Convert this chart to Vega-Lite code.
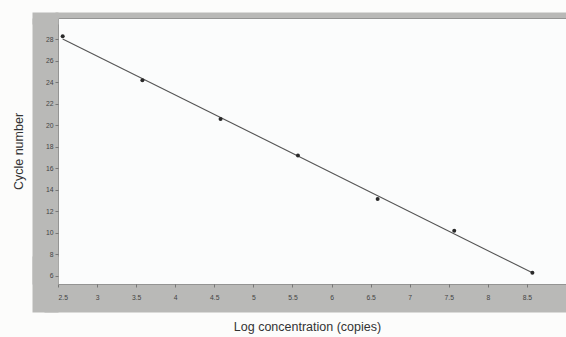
{
  "$schema": "https://vega.github.io/schema/vega-lite/v6.json",
  "width": 508,
  "height": 266,
  "autosize": {"type": "none"},
  "padding": {"left": 58, "top": 18, "right": 0, "bottom": 53},
  "background": "#fcfcfb",
  "view": {"fill": "#fbfcfc", "stroke": "#6f6f6f", "strokeWidth": 1},
  "config": {"font": "Liberation Sans"},
  "data": {
    "values": [
      {"logConc": 2.56, "cycle": 28.3},
      {"logConc": 3.58, "cycle": 24.2},
      {"logConc": 4.58, "cycle": 20.6},
      {"logConc": 5.57, "cycle": 17.2},
      {"logConc": 6.59, "cycle": 13.15},
      {"logConc": 7.57, "cycle": 10.2},
      {"logConc": 8.57, "cycle": 6.3}
    ]
  },
  "layer": [
    {
      "transform": [{"regression": "cycle", "on": "logConc"}],
      "mark": {"type": "line", "color": "#555555", "strokeWidth": 1.1},
      "encoding": {
        "x": {
          "field": "logConc",
          "type": "quantitative",
          "scale": {"domain": [2.5, 9], "nice": false, "zero": false},
          "axis": {
            "orient": "bottom",
            "zindex": 0,
            "offset": 14,
            "domainWidth": 28,
            "domainColor": "#b9b9b7",
            "domainCap": "square",
            "ticks": false,
            "labels": false,
            "grid": false,
            "title": null
          }
        },
        "y": {
          "field": "cycle",
          "type": "quantitative",
          "scale": {"domain": [5.25, 30], "nice": false, "zero": false},
          "axis": {
            "orient": "left",
            "zindex": 0,
            "offset": 13,
            "domainWidth": 26,
            "domainColor": "#b9b9b7",
            "ticks": false,
            "labels": false,
            "grid": false,
            "title": null
          }
        }
      }
    },
    {
      "mark": {"type": "point", "filled": true, "size": 16, "color": "#2a2a2a", "opacity": 1},
      "encoding": {
        "x": {
          "field": "logConc",
          "type": "quantitative",
          "axis": {
            "orient": "bottom",
            "zindex": 1,
            "values": [2.5, 3, 3.5, 4, 4.5, 5, 5.5, 6, 6.5, 7, 7.5, 8, 8.5],
            "format": "~g",
            "domain": false,
            "grid": false,
            "ticks": true,
            "tickSize": 3,
            "tickWidth": 0.8,
            "tickColor": "#666666",
            "labelPadding": 10,
            "labelBaseline": "middle",
            "labelFontSize": 6.8,
            "labelColor": "#444444",
            "title": "Log concentration (copies)",
            "titleFontSize": 12.5,
            "titleFontWeight": "normal",
            "titleColor": "#333333",
            "titleX": 249,
            "titleY": 42,
            "titleAlign": "center",
            "titleBaseline": "middle"
          }
        },
        "y": {
          "field": "cycle",
          "type": "quantitative",
          "axis": {
            "orient": "left",
            "zindex": 1,
            "values": [6, 8, 10, 12, 14, 16, 18, 20, 22, 24, 26, 28],
            "domain": false,
            "grid": false,
            "ticks": true,
            "tickSize": 3,
            "tickWidth": 0.8,
            "tickColor": "#666666",
            "labelPadding": 2,
            "labelAlign": "right",
            "labelBaseline": "middle",
            "labelFontSize": 6.8,
            "labelColor": "#444444",
            "title": "Cycle number",
            "titleFontSize": 12.5,
            "titleFontWeight": "normal",
            "titleColor": "#333333",
            "titleAngle": -90,
            "titleX": -40,
            "titleY": 133,
            "titleAlign": "center",
            "titleBaseline": "middle"
          }
        }
      }
    },
    {
      "mark": {"type": "point", "filled": true, "size": 16, "color": "#2a2a2a", "opacity": 0},
      "encoding": {
        "x": {
          "field": "logConc",
          "type": "quantitative",
          "axis": {
            "orient": "top",
            "zindex": 0,
            "offset": 3,
            "domainWidth": 6,
            "domainColor": "#b9b9b7",
            "domainCap": "square",
            "ticks": false,
            "labels": false,
            "grid": false,
            "title": null
          }
        },
        "y": {
          "field": "cycle",
          "type": "quantitative",
          "axis": {
            "orient": "left",
            "zindex": 0,
            "values": [5.25, 30],
            "domain": false,
            "labels": false,
            "grid": false,
            "title": null,
            "ticks": true,
            "tickSize": 26,
            "tickCap": "butt",
            "tickColor": "#b9b9b7",
            "tickWidth": {"condition": {"test": "datum.value > 20", "value": 12}, "value": 56}
          }
        }
      }
    }
  ],
  "resolve": {"axis": {"x": "independent", "y": "independent"}}
}
